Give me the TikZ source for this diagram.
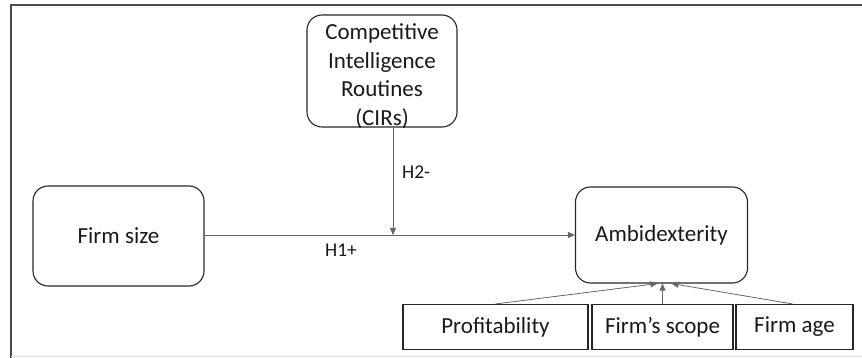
\documentclass[tikz,border=0pt]{standalone}
\usepackage{fontspec}
\setmainfont{Carlito}
\usetikzlibrary{arrows.meta}
\begin{document}
\begin{tikzpicture}[x=1pt,y=-1pt,
  rbox/.style={draw=black!85,line width=1.1pt,rounded corners=15pt,inner sep=0pt,align=center,font=\fontsize{23}{28.5}\selectfont,text=black!90},
  sbox/.style={draw=black!85,line width=1.1pt,inner sep=0pt,align=center,font=\fontsize{23}{28}\selectfont,text=black!90,minimum height=45pt},
  conn/.style={draw=black!60,line width=0.8pt,-{Triangle[length=7pt,width=6pt]}},
  lab/.style={font=\fontsize{19.5}{22}\selectfont,text=black!90,inner sep=0pt}]
\useasboundingbox (0,0) rectangle (862,358);
% frame
\draw[black!70,line width=2pt] (11,358) -- (11,5) -- (862,5);
\draw[black!12,line width=1pt] (11,356) -- (862,356);
% nodes
\node[rbox,minimum width=150pt,minimum height=112pt] (cir) at (382,71) {};
\node[align=center,inner sep=0pt,font=\fontsize{23}{28.5}\selectfont,text=black!90] (cirtext) at (382,76) {Competitive\\Intelligence\\Routines\\(CIRs)};
\node[rbox,minimum width=171pt,minimum height=100pt] (fs) at (118.5,236) {Firm size};
\node[rbox,minimum width=172pt,minimum height=96pt] (amb) at (661.5,235) {Ambidexterity};
\node[sbox,minimum width=185pt] (prof) at (495.5,327) {Profitability};
\node[sbox,minimum width=141pt] (scope) at (662.5,327) {Firm’s scope};
\node[sbox,minimum width=117pt] (age) at (794.5,327) {Firm age};
% connectors
\coordinate (mod) at (393,235);
\draw[conn] (fs.east |- mod) -- (amb.west |- mod);
\draw[conn] (cir.south -| mod) -- (mod);
\node[lab,anchor=west] (h2) at (402,172) {H2-};
\node[lab] (h1) at (341,250) {H1+};
\draw[conn] (prof.north) -- ([xshift=-4pt]amb.south);
\draw[conn] (scope.north) -- ([xshift=1pt]amb.south);
\draw[conn] ([xshift=-2pt]age.north) -- ([xshift=10pt]amb.south);
\end{tikzpicture}
\end{document}
